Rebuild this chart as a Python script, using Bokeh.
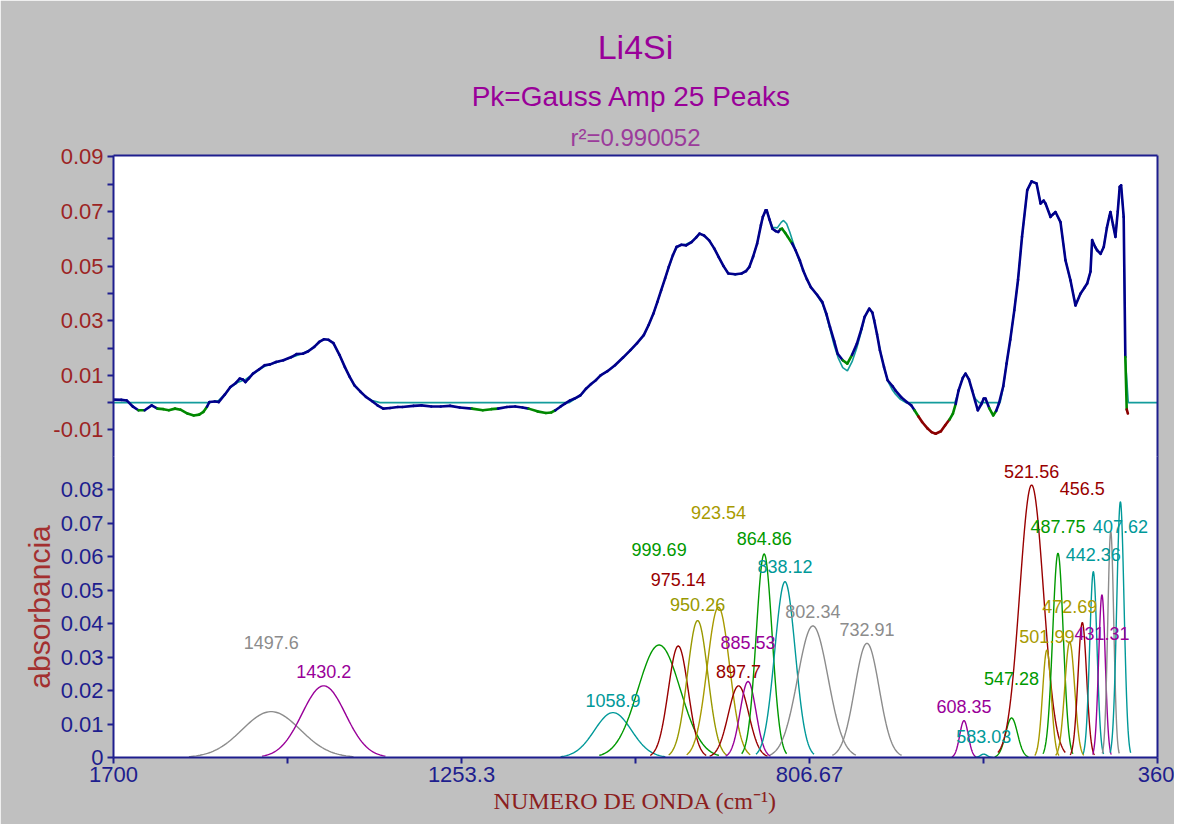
import numpy as np
from bokeh.plotting import figure
from bokeh.layouts import column
from bokeh.models import Range1d, LinearAxis, FixedTicker, Title, ColumnDataSource
from bokeh.core.properties import value
from bokeh.embed import file_html
from bokeh.resources import INLINE

# ---------------- data ----------------
title_main = "Li4Si"
title_sub = "Pk=Gauss Amp  25 Peaks"
title_r2 = "r²=0.990052"
x_label = "NUMERO DE ONDA (cm⁻¹)"
y_label = "absorbancia"

x_tick_values = [1700, 1253.3, 806.67, 360]
x_tick_labels = ["1700", "1253.3", "806.67", "360"]
x_minor_ticks = [1476.67, 1030.0, 583.33]

top_tick_values = [-0.01, 0.01, 0.03, 0.05, 0.07, 0.09]
top_tick_labels = ["-0.01", "0.01", "0.03", "0.05", "0.07", "0.09"]
top_minor_ticks = [0.0, 0.02, 0.04, 0.06, 0.08]

bot_tick_values = [0.0, 0.01, 0.02, 0.03, 0.04, 0.05, 0.06, 0.07, 0.08]
bot_tick_labels = ["0", "0.01", "0.02", "0.03", "0.04", "0.05", "0.06", "0.07", "0.08"]

# measured spectrum (wavenumber, absorbance)
data_wn = [1700, 1690, 1683, 1675, 1668, 1660, 1651, 1643.6, 1636, 1629, 1621, 1614, 1605, 1597,
           1590, 1584.7, 1580, 1577, 1570, 1565, 1557, 1550, 1543, 1538, 1534, 1530.7, 1526, 1521,
           1513, 1506, 1499, 1491.4, 1482, 1471.7, 1465, 1457, 1450, 1442.3, 1436, 1430, 1424,
           1417.7, 1410, 1403, 1397, 1390.7, 1383, 1376, 1368, 1361.2, 1353.8, 1345, 1335, 1329.3,
           1315, 1304.7, 1292, 1280, 1268, 1255.6, 1240, 1226, 1215, 1206.5, 1195, 1184.4, 1175,
           1167.2, 1156, 1145, 1138, 1132.8, 1126, 1120.5, 1114, 1108.2, 1100.6, 1093.5, 1087,
           1080.8, 1074.8, 1066, 1056.3, 1046, 1036.5, 1028, 1019.4, 1013, 1007, 1002, 997.1, 992,
           987.3, 982, 977.4, 971, 965, 958, 952, 947.8, 942, 935.5, 929, 923.2, 917, 910.9, 902,
           893.6, 888, 883.8, 879, 873.9, 869, 866.6, 863, 861.6, 858, 854.3, 850, 846.8, 844,
           841.9, 838, 834.5, 829, 824.6, 819, 814.9, 810, 805, 797, 790.2, 785, 780.4, 775, 770.5,
           764, 758.1, 752, 745.8, 740, 735.9, 730, 726, 723.6, 720, 716.3, 711, 706.4, 700, 696.5,
           689, 681.8, 676, 671.9, 667, 662.1, 655, 650, 644.8, 638, 632.5, 627, 622.6, 619, 615.3,
           610, 606.4, 602, 597.9, 594, 590.6, 586, 583, 580.8, 576, 570.9, 567, 563.6, 558, 553.7,
           549, 543.8, 539, 533.9, 527.2, 521.6, 515.3, 510.1, 506, 503.7, 497.3, 494, 490.9,
           484.5, 478.1, 471.7, 465.3, 458.9, 454, 450.3, 446, 443.9, 440, 437.5, 433, 429.0, 425,
           422, 420.4, 417, 414.0, 411, 408.5, 406.7, 403.4, 401.3, 399.5, 398]
data_abs = [0.0011, 0.0010, 0.0008, -0.0015, -0.0028, -0.0028, -0.0010, -0.0022, -0.0024, -0.0028,
            -0.0022, -0.0026, -0.0040, -0.0047, -0.0044, -0.0034, -0.0015, 0.0002, 0.0004, 0.0002,
            0.0030, 0.0057, 0.0072, 0.0088, 0.0085, 0.0075, 0.0090, 0.0106, 0.0122, 0.0137, 0.0140,
            0.0149, 0.0155, 0.0167, 0.0178, 0.0179, 0.0188, 0.0204, 0.0222, 0.0232, 0.0230, 0.0218,
            0.0175, 0.0130, 0.0095, 0.0063, 0.0040, 0.0021, 0.0005, -0.0010, -0.0022, -0.0020,
            -0.0016, -0.0016, -0.0012, -0.0010, -0.0014, -0.0014, -0.0012, -0.0018, -0.0022,
            -0.0028, -0.0024, -0.0022, -0.0016, -0.0014, -0.0018, -0.0022, -0.0032, -0.0038,
            -0.0036, -0.0028, -0.0014, -0.0004, 0.0008, 0.0015, 0.0027, 0.0051, 0.0068, 0.0082,
            0.0100, 0.0115, 0.0137, 0.0165, 0.0192, 0.0218, 0.0247, 0.0285, 0.0326, 0.0368, 0.0411,
            0.0455, 0.0497, 0.0540, 0.0570, 0.0578, 0.0576, 0.0588, 0.0605, 0.0619, 0.0612, 0.0594,
            0.0565, 0.0533, 0.0500, 0.0473, 0.0470, 0.0473, 0.0482, 0.0497, 0.0535, 0.0582, 0.0650,
            0.0680, 0.0704, 0.0704, 0.0670, 0.0637, 0.0628, 0.0625, 0.0635, 0.0637, 0.0622, 0.0607,
            0.0583, 0.0558, 0.0520, 0.0485, 0.0452, 0.0423, 0.0395, 0.0368, 0.0325, 0.0277, 0.0225,
            0.0179, 0.0155, 0.0143, 0.0175, 0.0216, 0.0270, 0.0314, 0.0344, 0.0330, 0.0301, 0.0250,
            0.0192, 0.0130, 0.0082, 0.0060, 0.0045, 0.0020, 0.0002, -0.0010, -0.0028, -0.0050,
            -0.0071, -0.0095, -0.0108, -0.0114, -0.0105, -0.0083, -0.0062, -0.0040, -0.0005, 0.0045,
            0.0090, 0.0106, 0.0085, 0.0045, 0.0005, -0.0028, -0.0005, 0.0015, 0.0015, -0.0020,
            -0.0047, -0.0030, -0.0004, 0.0060, 0.0143, 0.0230, 0.0338, 0.0450, 0.0607, 0.0778,
            0.0810, 0.0803, 0.0729, 0.0740, 0.0729, 0.0680, 0.0690, 0.0698, 0.0661, 0.0521, 0.0448,
            0.0356, 0.0399, 0.0420, 0.0436, 0.0480, 0.0595, 0.0570, 0.0558, 0.0545, 0.0570, 0.0640,
            0.0680, 0.0698, 0.0650, 0.0607, 0.0700, 0.0790, 0.0796, 0.0680, 0.0167, -0.0025, -0.0040]

# fitted curve (wavenumber, absorbance)
fit_wn = [1700, 1577, 1565, 1557, 1550, 1540, 1530, 1521, 1513, 1506, 1491, 1482, 1471, 1457, 1450,
          1442, 1436, 1430, 1424, 1418, 1410, 1403, 1397, 1391, 1383, 1376, 1368, 1358, 1115, 1108,
          1100, 1093, 1087, 1081, 1075, 1066, 1056, 1046, 1036, 1028, 1019, 1013, 1007, 1002, 997,
          992, 987, 982, 977, 971, 965, 958, 952, 948, 942, 935, 929, 923, 917, 911, 902, 894, 888,
          884, 879, 874, 869, 866, 863, 861, 858, 854, 848, 843, 840, 836, 832, 827, 823, 819, 815,
          810, 805, 797, 790, 785, 780, 775, 770, 764, 758, 752, 746, 740, 736, 730, 726, 724, 720,
          716, 711, 706, 700, 696, 690, 683, 620, 616, 612, 608, 606, 602, 598, 594, 589, 562, 558,
          554, 549, 544, 539, 534, 527, 521.6, 515, 510, 506, 504, 497, 494, 491, 484.5, 478, 472,
          465, 459, 454, 450, 446, 444, 440, 437.5, 433, 429, 425, 422, 420.4, 417, 414, 411, 408.5,
          406.7, 403.4, 401.3, 397.5, 360]
fit_abs = [0.0, 0.0, 0.0008, 0.0030, 0.0055, 0.0075, 0.0086, 0.0104, 0.0120, 0.0133, 0.0147, 0.0155,
           0.0166, 0.0180, 0.0190, 0.0205, 0.0222, 0.0232, 0.0230, 0.0218, 0.0175, 0.0130, 0.0095,
           0.0063, 0.0040, 0.0021, 0.0008, 0.0, 0.0, 0.0013, 0.0027, 0.0051, 0.0068, 0.0082, 0.0100,
           0.0115, 0.0137, 0.0165, 0.0192, 0.0218, 0.0247, 0.0285, 0.0326, 0.0368, 0.0411, 0.0455,
           0.0497, 0.0540, 0.0568, 0.0578, 0.0580, 0.0590, 0.0606, 0.0618, 0.0612, 0.0594, 0.0565,
           0.0533, 0.0500, 0.0474, 0.0468, 0.0472, 0.0482, 0.0498, 0.0535, 0.0582, 0.0650, 0.0682,
           0.0702, 0.0702, 0.0672, 0.0642, 0.0640, 0.0660, 0.0667, 0.0655, 0.0625, 0.0580, 0.0545,
           0.0515, 0.0485, 0.0452, 0.0423, 0.0393, 0.0362, 0.0318, 0.0265, 0.0210, 0.0165, 0.0128,
           0.0116, 0.0150, 0.0200, 0.0262, 0.0310, 0.0344, 0.0330, 0.0301, 0.0250, 0.0192, 0.0128,
           0.0078, 0.0045, 0.0030, 0.0012, 0.0, 0.0, 0.0035, 0.0075, 0.0102, 0.0106, 0.0085, 0.0045,
           0.0015, 0.0, 0.0, 0.0055, 0.0140, 0.0228, 0.0335, 0.0450, 0.0605, 0.0778, 0.0812, 0.0800,
           0.0730, 0.0738, 0.0729, 0.0682, 0.0690, 0.0697, 0.0660, 0.0522, 0.0448, 0.0358, 0.0398,
           0.0420, 0.0437, 0.0480, 0.0592, 0.0570, 0.0558, 0.0546, 0.0570, 0.0640, 0.0680, 0.0698,
           0.0650, 0.0607, 0.0700, 0.0790, 0.0796, 0.0680, 0.0167, 0.0, 0.0]

# fitted Gaussian peaks
peak_label = ["1497.6", "1430.2", "1058.9", "999.69", "975.14", "950.26", "923.54", "897.7",
              "885.53", "864.86", "838.12", "802.34", "732.91", "608.35", "583.03", "547.28",
              "521.56", "501.99", "487.75", "472.69", "456.5", "442.36", "431.31", "", "407.62"]
peak_center = [1497.6, 1430.2, 1058.9, 999.69, 975.14, 950.26, 923.54, 897.7, 885.53, 864.86,
               838.12, 802.34, 732.91, 608.35, 583.03, 547.28, 521.56, 501.99, 487.75, 472.69,
               456.5, 442.36, 431.31, 420.0, 407.62]
peak_amp = [0.0137, 0.0214, 0.0134, 0.0336, 0.0333, 0.0409, 0.0449, 0.0214, 0.0227, 0.0608,
            0.0525, 0.0393, 0.0341, 0.0110, 0.0010, 0.0118, 0.0814, 0.0321, 0.0610, 0.0345,
            0.0403, 0.0555, 0.0486, 0.0675, 0.0764]
peak_fwhm = [88, 66, 56, 64, 30, 31, 34, 31, 24, 24, 31, 46, 37, 13, 10, 18, 36, 13, 16, 15, 13,
             11, 10, 9, 11]
peak_label_y = [0.0342, 0.0256, 0.0170, 0.0620, 0.0533, 0.0456, 0.0731, 0.0257, 0.0343, 0.0655,
                0.0570, 0.0436, 0.0383, 0.0152, 0.0062, 0.0236, 0.0855, 0.0362, 0.0690, 0.0450,
                0.0802, 0.0605, 0.0371, 0.0690, 0.0690]
peak_color = ["#8C8C8C", "#990099", "#009999", "#009900", "#990000", "#999900", "#A89A00",
              "#990000", "#990099", "#009900", "#009999", "#8C8C8C", "#8C8C8C", "#990099",
              "#009999", "#009900", "#990000", "#A89A00", "#009900", "#A89A00", "#990000",
              "#009999", "#990099", "#8C8C8C", "#009999"]

# ---------------- style ----------------
SANS = "Liberation Sans"
SERIF = "Liberation Serif"
AXIS_BLUE = "#1E1E8E"
DATA_BLUE = "#00008B"
FIT_TEAL = "#139C9C"
RES_GREEN = "#008800"
RES_RED = "#8B0000"
TOP_LABEL = "#9C2424"
BG = "#C0C0C0"
TITLE_COL = "#990099"

xr = Range1d(1700, 360)


def style_axis(ax, label_color):
    ax.axis_line_color = AXIS_BLUE
    ax.axis_line_width = 2
    ax.major_tick_line_color = AXIS_BLUE
    ax.minor_tick_line_color = AXIS_BLUE
    ax.major_tick_line_width = 2
    ax.minor_tick_line_width = 2
    ax.major_tick_in = 0
    ax.major_tick_out = 6
    ax.minor_tick_in = 0
    ax.minor_tick_out = 6
    ax.major_label_text_color = label_color
    ax.major_label_text_font = SANS
    ax.major_label_text_font_size = "22px"
    ax.major_label_standoff = 4


def frame_axis(ax):
    ax.ticker = FixedTicker(ticks=[])
    ax.axis_line_color = AXIS_BLUE
    ax.axis_line_width = 2
    ax.major_tick_line_color = None
    ax.minor_tick_line_color = None
    ax.major_label_text_font_size = "0px"
    ax.major_label_standoff = 0
    ax.major_tick_out = 0
    ax.minor_tick_out = 0


common = dict(x_range=xr, frame_width=1044, output_backend="svg", toolbar_location=None,
              x_axis_location=None, y_axis_location=None, background_fill_color="white",
              border_fill_color=BG, outline_line_color=None, min_border_left=113,
              min_border_right=17)

# ---------------- top panel: spectrum + fit ----------------
top = figure(y_range=Range1d(-0.0201, 0.0905), frame_height=302, min_border_top=155,
             min_border_bottom=0, **common)

yax_t = LinearAxis(ticker=FixedTicker(ticks=top_tick_values, minor_ticks=top_minor_ticks))
style_axis(yax_t, TOP_LABEL)
yax_t.major_label_overrides = dict(zip(top_tick_values, top_tick_labels))
top.add_layout(yax_t, "left")

ax_above = LinearAxis()
frame_axis(ax_above)
top.add_layout(ax_above, "above")
ax_right_t = LinearAxis()
frame_axis(ax_right_t)
top.add_layout(ax_right_t, "right")

top.add_layout(Title(text=title_r2, align="center", text_font=SANS, text_font_size="24px",
                     text_color="#9B3B9B", text_font_style="normal", standoff=10), "above")
top.add_layout(Title(text=title_sub, align="center", text_font=SANS, text_font_size="28px",
                     text_color=TITLE_COL, text_font_style="normal", standoff=9), "above")
top.add_layout(Title(text=title_main, align="center", text_font=SANS, text_font_size="34px",
                     text_color=TITLE_COL, text_font_style="normal", standoff=17), "above")

top.line(fit_wn, fit_abs, line_color=FIT_TEAL, line_width=1.6)

wn = np.array(data_wn, dtype=float)
ab = np.array(data_abs, dtype=float)
fit_at = np.interp(wn[::-1], np.array(fit_wn, float)[::-1], np.array(fit_abs, float)[::-1])[::-1]
res = np.abs(ab - fit_at)
seg_res = 0.5 * (res[:-1] + res[1:])
seg_col = [DATA_BLUE if r < 0.0022 else (RES_GREEN if r < 0.006 else RES_RED) for r in seg_res]
top.segment(x0=wn[:-1], y0=ab[:-1], x1=wn[1:], y1=ab[1:], line_color=seg_col, line_width=2.6,
            line_cap="round")

# ---------------- bottom panel: peaks ----------------
bot = figure(y_range=Range1d(0, 0.0899), frame_height=301, min_border_top=0, min_border_bottom=67,
             **common)
bot.margin = (-1, 0, 0, 0)

yax_b = LinearAxis(ticker=FixedTicker(ticks=bot_tick_values), axis_label=y_label)
style_axis(yax_b, AXIS_BLUE)
yax_b.major_label_overrides = dict(zip(bot_tick_values, bot_tick_labels))
yax_b.axis_label_text_font = SANS
yax_b.axis_label_text_font_size = "30px"
yax_b.axis_label_text_font_style = "normal"
yax_b.axis_label_text_color = "#A33030"
yax_b.axis_label_standoff = 2
bot.add_layout(yax_b, "left")

xax = LinearAxis(ticker=FixedTicker(ticks=x_tick_values, minor_ticks=x_minor_ticks),
                 axis_label=x_label)
style_axis(xax, AXIS_BLUE)
xax.major_label_standoff = 3
xax.major_label_overrides = dict(zip(x_tick_values, x_tick_labels))
xax.axis_label_text_font = SERIF
xax.axis_label_text_font_size = "24px"
xax.axis_label_text_font_style = "normal"
xax.axis_label_text_color = "#8B2020"
xax.axis_label_standoff = 3
bot.add_layout(xax, "below")

ax_right_b = LinearAxis()
frame_axis(ax_right_b)
bot.add_layout(ax_right_b, "right")

xs, ys = [], []
for c, a, w in zip(peak_center, peak_amp, peak_fwhm):
    x = np.linspace(c - 1.2 * w, c + 1.2 * w, 90)
    y = a * np.exp(-4 * np.log(2) * ((x - c) / w) ** 2)
    xs.append(x)
    ys.append(y)
bot.multi_line(xs=xs, ys=ys, line_color=peak_color, line_width=1.4)

lab = ColumnDataSource(dict(x=peak_center, y=peak_label_y, text=peak_label, color=peak_color))
bot.text(x="x", y="y", text="text", text_color="color", source=lab, text_font=value(SANS),
         text_font_size=value("18px"), text_align="center", text_baseline="middle")

for p in (top, bot):
    p.grid.visible = False

layout = column(top, bot, spacing=0)
open("out.html", "w").write(file_html(layout, INLINE, title="Li4Si"))
